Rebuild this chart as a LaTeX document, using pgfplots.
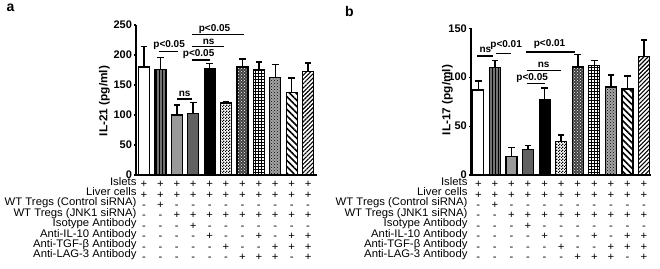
\documentclass[border=0pt]{standalone}
\usepackage{fontspec}
\setmainfont{Liberation Sans}
\newfontfamily\rowff[FakeStretch=1.03]{Liberation Sans}
\usepackage{pgfplots}
\pgfplotsset{compat=1.18}
\usetikzlibrary{patterns,patterns.meta}
\pgfdeclarepatternformonly{finecheck}{\pgfpointorigin}{\pgfqpoint{3pt}{3pt}}{\pgfqpoint{3pt}{3pt}}{%
  \pgfpathrectangle{\pgfpointorigin}{\pgfqpoint{1.5pt}{1.5pt}}%
  \pgfpathrectangle{\pgfqpoint{1.5pt}{1.5pt}}{\pgfqpoint{1.5pt}{1.5pt}}%
  \pgfusepath{fill}}
\newcommand{\rowfont}{\rowff\fontsize{11}{10.4}\selectfont}
\newcommand{\col}[8]{\rule{0pt}{9pt}#1\\#2\\#3\\#4\\#5\\#6\\#7\\#8}
\newcommand{\rowlabels}{Islets\\Liver cells\\WT Tregs (Control siRNA)\\WT Tregs (JNK1 siRNA)\\Isotype Antibody\\Anti-IL-10 Antibody\\Anti-TGF-β Antibody\\Anti-LAG-3 Antibody}
\pgfplotsset{
  panel/.style={
    scale only axis, axis lines=left, axis line style={-, line width=1.8pt},
    ymin=0, xtick={0,...,10}, xtick style={draw=none},
    ytick style={line width=1.2pt, black}, tick align=outside, major tick length=2.5pt,
    xticklabels={\col++------,\col+++-----,\col++-+----,\col++-++---,\col++-+-+--,\col++-+--+-,\col++-+---+,\col++-+-+-+,\col++-+--++,\col++-+-++-,\col++-+-+++},
    xticklabel style={anchor=north, inner sep=0pt, yshift=-1pt, align=center, font=\rowfont},
    yticklabel style={font=\bfseries\fontsize{11}{13}\selectfont, inner sep=1.5pt},
    /pgf/number format/assume math mode=true,
    clip=false,
  },
  mybar/.style={ybar, bar width=11pt, bar shift=0pt, draw=black, line width=1.2pt,
    error bars/y dir=plus, error bars/y explicit,
    error bars/error bar style={line width=1.5pt, black, solid},
    error bars/error mark options={rotate=90, black, mark size=3.3pt, line width=1.5pt}},
  f1/.style={fill=white},
  f2/.style={fill=black!55, postaction={pattern={Lines[angle=90,distance=3pt,line width=0.9pt]}}},
  f3/.style={fill=black!40},
  f4/.style={fill=black!62},
  f5/.style={fill=black},
  f6/.style={fill=white, postaction={pattern=finecheck}},
  f7/.style={fill=black!75, postaction={pattern=crosshatch dots, pattern color=white}},
  f8/.style={fill=white, postaction={pattern=grid}},
  f9/.style={fill=black!35, postaction={pattern=crosshatch dots}},
  f10/.style={fill=white, postaction={pattern={Lines[angle=-45,distance=4.5pt,line width=1.6pt]}}},
  f11/.style={fill=white, postaction={pattern={Lines[angle=45,distance=3pt,line width=1.1pt]}}},
}
\tikzset{sig/.style={font=\bfseries\fontsize{10}{12}\selectfont, inner sep=0pt}, sl/.style={line width=1.5pt}}
\begin{document}
\begin{tikzpicture}[x=1pt,y=1pt]
\useasboundingbox (0,0) rectangle (660,268);
% ---------- panel a ----------
\begin{axis}[panel, at={(144pt,93pt)}, anchor=origin, width=181pt, height=150pt,
  xmin=-0.48, xmax=10.55, ymax=250, ytick={0,50,100,150,200,250}]
\addplot[mybar,f1]  coordinates {(0,180) +- (0,34)};
\addplot[mybar,f2]  coordinates {(1,176) +- (0,20)};
\addplot[mybar,f3]  coordinates {(2,100) +- (0,17)};
\addplot[mybar,f4]  coordinates {(3,103) +- (0,18)};
\addplot[mybar,f5]  coordinates {(4,177) +- (0,9)};
\addplot[mybar,f6]  coordinates {(5,120) +- (0,2.5)};
\addplot[mybar,f7]  coordinates {(6,180) +- (0,13)};
\addplot[mybar,f8]  coordinates {(7,176) +- (0,12.5)};
\addplot[mybar,f9]  coordinates {(8,162) +- (0,22)};
\addplot[mybar,f10] coordinates {(9,137) +- (0,25)};
\addplot[mybar,f11] coordinates {(10,172) +- (0,15)};
\draw[sl] (axis cs:0.9,205.5) -- (axis cs:2.1,205.5);
\node[sig] at (axis cs:1.53,216.5) {p<0.05};
\draw[sl] (axis cs:2.0,126.7) -- (axis cs:2.95,126.7);
\node[sig] at (axis cs:2.48,135) {ns};
\draw[sl] (axis cs:2.9,191.7) -- (axis cs:4.0,191.7);
\node[sig] at (axis cs:3.33,201.7) {p<0.05};
\draw[sl] (axis cs:2.9,213.9) -- (axis cs:4.9,213.9);
\node[sig] at (axis cs:3.94,221.5) {ns};
\draw[sl] (axis cs:2.93,234.4) -- (axis cs:6.08,234.4);
\node[sig] at (axis cs:4.3,244) {p<0.05};
\end{axis}
\node[anchor=north east, align=right, inner sep=0pt, font=\rowfont] at (136.7,91.1) {\rowlabels};
\node[rotate=90, font=\rowff\bfseries\fontsize{11.5}{13}\selectfont] at (104.5,167) {IL-21 (pg/ml)};
\node[anchor=base west, inner sep=0pt, font=\bfseries\fontsize{14}{16}\selectfont] at (6.5,256.5) {a};
% ---------- panel b ----------
\begin{axis}[panel, at={(478.3pt,93pt)}, anchor=origin, width=180pt, height=146.7pt,
  xmin=-0.44, xmax=10.42, ymax=150, ytick={0,50,100,150}]
\addplot[mybar,f1]  coordinates {(0,87) +- (0,9)};
\addplot[mybar,f2]  coordinates {(1,110) +- (0,7)};
\addplot[mybar,f3]  coordinates {(2,19) +- (0,9)};
\addplot[mybar,f4]  coordinates {(3,26) +- (0,4)};
\addplot[mybar,f5]  coordinates {(4,77) +- (0,12)};
\addplot[mybar,f6]  coordinates {(5,34) +- (0,7)};
\addplot[mybar,f7]  coordinates {(6,110.5) +- (0,12.5)};
\addplot[mybar,f8]  coordinates {(7,112) +- (0,5)};
\addplot[mybar,f9]  coordinates {(8,90) +- (0,12)};
\addplot[mybar,f10] coordinates {(9,88) +- (0,13)};
\addplot[mybar,f11] coordinates {(10,121) +- (0,17)};
\draw[sl] (axis cs:-0.07,121.7) -- (axis cs:0.88,121.7);
\node[sig] at (axis cs:0.43,127.5) {ns};
\draw[sl] (axis cs:1.08,124.4) -- (axis cs:1.98,124.4);
\node[sig] at (axis cs:1.68,133) {p<0.01};
\draw[sl] (axis cs:2.89,126) -- (axis cs:5.81,126);
\node[sig] at (axis cs:4.3,133.6) {p<0.01};
\draw[sl] (axis cs:2.93,106.6) -- (axis cs:5.0,106.6);
\node[sig] at (axis cs:3.94,112.5) {ns};
\draw[sl] (axis cs:2.93,93.7) -- (axis cs:4.0,93.7);
\node[sig] at (axis cs:3.25,99.5) {p<0.05};
\end{axis}
\node[anchor=north east, align=right, inner sep=0pt, font=\rowfont] at (467.7,91.1) {\rowlabels};
\node[rotate=90, font=\rowff\bfseries\fontsize{11.5}{13}\selectfont] at (447.5,168) {IL-17 (pg/ml)};
\node[anchor=base west, inner sep=0pt, font=\bfseries\fontsize{14}{16}\selectfont] at (345,251.5) {b};
\end{tikzpicture}
\end{document}
